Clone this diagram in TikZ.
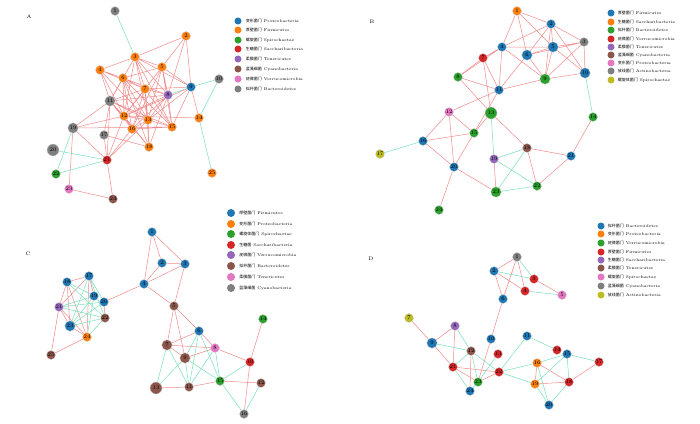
\documentclass[tikz,border=0pt]{standalone}
\usepackage{fontspec}
\newfontfamily\cjk{Noto Sans CJK SC}
\usetikzlibrary{positioning,backgrounds}
\definecolor{tblue}{HTML}{1F77B4}
\definecolor{torange}{HTML}{FF7F0E}
\definecolor{tgreen}{HTML}{2CA02C}
\definecolor{tred}{HTML}{D62728}
\definecolor{tpurple}{HTML}{9467BD}
\definecolor{tbrown}{HTML}{8C564B}
\definecolor{tpink}{HTML}{E377C2}
\definecolor{tgray}{HTML}{7F7F7F}
\definecolor{tolive}{HTML}{BCBD22}
\definecolor{redge}{HTML}{F08A8A}
\definecolor{gedge}{HTML}{7ADFB8}
\tikzset{
  otu/.style={circle, draw=gray!35, line width=0.3pt, inner sep=0pt, minimum size=9pt, font=\fontsize{5.5}{5.5}\selectfont},
  bigotu/.style={minimum size=12pt},
  midotu/.style={minimum size=10.5pt},
  posedge/.style={draw=redge, line width=0.5pt},
  negedge/.style={draw=gedge, line width=0.5pt},
  legdot/.style={circle, inner sep=0pt, minimum size=7pt},
  legtxt/.style={inner sep=0pt, font=\fontsize{4}{4}\selectfont},
  panel/.style={font=\fontsize{5}{5}\selectfont}
}
\begin{document}
\begin{tikzpicture}[x=1pt, y=-1pt]
\useasboundingbox (0,0) rectangle (700,423);

% panel A
\path (29,17) node[panel] {A};
\node[otu, fill=tgray] (a1) at (115,11) {1};
\node[otu, fill=torange] (a2) at (186,36) {2};
\node[otu, fill=torange] (a3) at (135,57) {3};
\node[otu, fill=torange] (a4) at (100,70) {4};
\node[otu, fill=torange] (a5) at (162,67) {5};
\node[otu, fill=torange] (a6) at (123,78) {6};
\node[otu, fill=torange] (a7) at (145,89) {7};
\node[otu, fill=tpurple] (a8) at (168,95) {8};
\node[otu, fill=tblue] (a9) at (191,87) {9};
\node[otu, fill=tgray] (a10) at (219,79) {10};
\node[otu, midotu, fill=tgray] (a11) at (110,101) {11};
\node[otu, fill=torange] (a12) at (124,116) {12};
\node[otu, fill=torange] (a13) at (148,120) {13};
\node[otu, fill=torange] (a14) at (199,118) {14};
\node[otu, fill=torange] (a15) at (172,127) {15};
\node[otu, fill=torange] (a16) at (132,129) {16};
\node[otu, fill=tgray] (a17) at (104,135) {17};
\node[otu, fill=torange] (a18) at (149,147) {18};
\node[otu, midotu, fill=tgray] (a19) at (73,128) {19};
\node[otu, bigotu, fill=tgray] (a20) at (53,150) {20};
\node[otu, fill=tred] (a21) at (107,160) {21};
\node[otu, fill=tgreen] (a22) at (56,174) {22};
\node[otu, fill=tpink] (a23) at (69,189) {23};
\node[otu, fill=tbrown] (a24) at (113,199) {24};
\node[otu, fill=torange] (a25) at (212,173) {25};
\begin{scope}[on background layer]
  \draw[posedge] (a2) -- (a3) (a2) -- (a5) (a2) -- (a8) (a2) -- (a9);
  \draw[posedge] (a3) -- (a4) (a3) -- (a5) (a3) -- (a6) (a3) -- (a7) (a3) -- (a8) (a3) -- (a9) (a3) -- (a11) (a3) -- (a12) (a3) -- (a13) (a3) -- (a15);
  \draw[posedge] (a4) -- (a6) (a4) -- (a7) (a4) -- (a11) (a4) -- (a12) (a4) -- (a13);
  \draw[posedge] (a5) -- (a6) (a5) -- (a7) (a5) -- (a8) (a5) -- (a9) (a5) -- (a12) (a5) -- (a13) (a5) -- (a15) (a5) -- (a16);
  \draw[posedge] (a6) -- (a7) (a6) -- (a8) (a6) -- (a11) (a6) -- (a12) (a6) -- (a13) (a6) -- (a15) (a6) -- (a16) (a6) -- (a18);
  \draw[posedge] (a7) -- (a8) (a7) -- (a9) (a7) -- (a11) (a7) -- (a12) (a7) -- (a13) (a7) -- (a15) (a7) -- (a16) (a7) -- (a18);
  \draw[posedge] (a8) -- (a11) (a8) -- (a12) (a8) -- (a13) (a8) -- (a15) (a8) -- (a16) (a8) -- (a18);
  \draw[posedge] (a9) -- (a12) (a9) -- (a13) (a9) -- (a14) (a9) -- (a15);
  \draw[posedge] (a11) -- (a12) (a11) -- (a13) (a11) -- (a15) (a11) -- (a16) (a11) -- (a17) (a11) -- (a18) (a11) -- (a19) (a11) -- (a21);
  \draw[posedge] (a12) -- (a13) (a12) -- (a14) (a12) -- (a16) (a12) -- (a18) (a12) -- (a21) (a12) -- (a19);
  \draw[posedge] (a13) -- (a15) (a13) -- (a16) (a13) -- (a18) (a13) -- (a21);
  \draw[posedge] (a15) -- (a16) (a15) -- (a19) (a16) -- (a21) (a17) -- (a18) (a17) -- (a21);
  \draw[posedge] (a19) -- (a21) (a19) -- (a23) (a21) -- (a24) (a23) -- (a24);
  \draw[negedge] (a1) -- (a3) (a8) -- (a9) (a9) -- (a10) (a10) -- (a14) (a14) -- (a25);
  \draw[negedge] (a19) -- (a22) (a20) -- (a21) (a21) -- (a22);
\end{scope}
% legend A
\node[legdot, fill=tblue] (la1) at (238,21) {};
\node[legdot, fill=torange] (la2) at (238,30) {};
\node[legdot, fill=tgreen] (la3) at (238,40) {};
\node[legdot, fill=tred] (la4) at (238,49) {};
\node[legdot, fill=tpurple] (la5) at (238,59) {};
\node[legdot, fill=tbrown] (la6) at (238,69) {};
\node[legdot, fill=tpink] (la7) at (238,79) {};
\node[legdot, fill=tgray] (la8) at (238,89) {};
\node[legtxt, right=4pt of la1] {{\cjk 变形菌门} Proteobacteria};
\node[legtxt, right=4pt of la2] {{\cjk 厚壁菌门} Firmicutes};
\node[legtxt, right=4pt of la3] {{\cjk 螺旋菌门} Spirochaetae};
\node[legtxt, right=4pt of la4] {{\cjk 生糖菌门} Saccharibacteria};
\node[legtxt, right=4pt of la5] {{\cjk 柔膜菌门} Tenericutes};
\node[legtxt, right=4pt of la6] {{\cjk 蓝藻细菌} Cyanobacteria};
\node[legtxt, right=4pt of la7] {{\cjk 疣微菌门} Verrucomicrobia};
\node[legtxt, right=4pt of la8] {{\cjk 拟杆菌门} Bacteroidetes};

% panel B
\path (372,22) node[panel] {B};
\node[otu, fill=torange] (b1) at (517,11) {1};
\node[otu, fill=tblue] (b2) at (551,24) {2};
\node[otu, fill=tgray] (b3) at (584,42) {3};
\node[otu, fill=tblue] (b4) at (502,47) {4};
\node[otu, midotu, fill=tblue] (b5) at (553,47) {5};
\node[otu, midotu, fill=tblue] (b6) at (527,55) {6};
\node[otu, fill=tred] (b7) at (483,58) {7};
\node[otu, fill=tgreen] (b8) at (458,77) {8};
\node[otu, midotu, fill=tgreen] (b9) at (545,79) {9};
\node[otu, midotu, fill=tblue] (b10) at (585,73) {10};
\node[otu, fill=tblue] (b11) at (499,90) {11};
\node[otu, fill=tpink] (b12) at (449,112) {12};
\node[otu, bigotu, fill=tgreen] (b13) at (491,113) {13};
\node[otu, fill=tgreen] (b14) at (593,117) {14};
\node[otu, fill=tgreen] (b15) at (474,133) {15};
\node[otu, fill=tblue] (b16) at (423,141) {16};
\node[otu, fill=tolive] (b17) at (380,154) {17};
\node[otu, fill=tbrown] (b18) at (527,148) {18};
\node[otu, fill=tpurple] (b19) at (494,159) {19};
\node[otu, fill=tblue] (b20) at (454,167) {20};
\node[otu, fill=tblue] (b21) at (571,156) {21};
\node[otu, fill=tgreen] (b22) at (537,186) {22};
\node[otu, midotu, fill=tgreen] (b23) at (496,192) {23};
\node[otu, fill=tgreen] (b24) at (439,210) {24};
\begin{scope}[on background layer]
  \draw[posedge] (b1) -- (b2) (b1) -- (b4) (b1) -- (b5) (b1) -- (b6);
  \draw[posedge] (b2) -- (b3) (b2) -- (b4) (b2) -- (b5) (b2) -- (b6) (b2) -- (b9) (b2) -- (b10);
  \draw[posedge] (b3) -- (b5) (b3) -- (b6) (b3) -- (b9) (b3) -- (b10);
  \draw[posedge] (b4) -- (b5) (b4) -- (b7) (b4) -- (b8) (b4) -- (b9) (b4) -- (b11);
  \draw[posedge] (b5) -- (b6) (b5) -- (b9) (b5) -- (b10) (b6) -- (b9) (b6) -- (b11);
  \draw[posedge] (b7) -- (b8) (b7) -- (b11) (b7) -- (b13) (b8) -- (b11) (b8) -- (b13);
  \draw[posedge] (b9) -- (b10) (b9) -- (b11) (b11) -- (b12) (b11) -- (b15);
  \draw[posedge] (b12) -- (b15) (b12) -- (b16) (b12) -- (b20) (b13) -- (b15) (b13) -- (b18);
  \draw[posedge] (b15) -- (b16) (b15) -- (b20) (b16) -- (b20) (b20) -- (b23) (b20) -- (b24);
  \draw[posedge] (b18) -- (b21) (b18) -- (b22) (b19) -- (b23) (b21) -- (b22) (b21) -- (b14);
  \draw[negedge] (b10) -- (b14) (b16) -- (b17) (b13) -- (b19) (b19) -- (b18) (b19) -- (b22) (b18) -- (b23) (b23) -- (b22);
\end{scope}
% legend B
\node[legdot, fill=tblue] (lb1) at (611,13) {};
\node[legdot, fill=torange] (lb2) at (611,22) {};
\node[legdot, fill=tgreen] (lb3) at (611,30) {};
\node[legdot, fill=tred] (lb4) at (611,39) {};
\node[legdot, fill=tpurple] (lb5) at (611,47) {};
\node[legdot, fill=tbrown] (lb6) at (611,55) {};
\node[legdot, fill=tpink] (lb7) at (611,63) {};
\node[legdot, fill=tgray] (lb8) at (611,71) {};
\node[legdot, fill=tolive] (lb9) at (611,80) {};
\node[legtxt, right=3pt of lb1] {{\cjk 厚壁菌门} Firmicutes};
\node[legtxt, right=3pt of lb2] {{\cjk 生糖菌门} Saccharibacteria};
\node[legtxt, right=3pt of lb3] {{\cjk 拟杆菌门} Bacteroidetes};
\node[legtxt, right=3pt of lb4] {{\cjk 疣微菌门} Verrucomicrobia};
\node[legtxt, right=3pt of lb5] {{\cjk 柔膜菌门} Tenericutes};
\node[legtxt, right=3pt of lb6] {{\cjk 蓝藻细菌} Cyanobacteria};
\node[legtxt, right=3pt of lb7] {{\cjk 变形菌门} Proteobacteria};
\node[legtxt, right=3pt of lb8] {{\cjk 放线菌门} Actinobacteria};
\node[legtxt, right=3pt of lb9] {{\cjk 螺旋体菌门} Spirochaetae};

% panel C
\path (28,254) node[panel] {C};
\node[otu, fill=tblue] (c1) at (152,232) {1};
\node[otu, fill=tblue] (c2) at (162,263) {2};
\node[otu, fill=tblue] (c3) at (185,264) {3};
\node[otu, fill=tblue] (c4) at (144,284) {4};
\node[otu, fill=tbrown] (c5) at (174,306) {5};
\node[otu, fill=tblue] (c6) at (199,331) {6};
\node[otu, midotu, fill=tbrown] (c7) at (167,345) {7};
\node[otu, fill=tpink] (c8) at (215,348) {8};
\node[otu, midotu, fill=tbrown] (c9) at (185,358) {9};
\node[otu, fill=tred] (c10) at (250,362) {10};
\node[otu, fill=tbrown] (c11) at (189,387) {11};
\node[otu, fill=tbrown] (c12) at (261,383) {12};
\node[otu, bigotu, fill=tbrown] (c13) at (156,388) {13};
\node[otu, fill=tgreen] (c14) at (263,319) {14};
\node[otu, fill=tgreen] (c15) at (220,381) {15};
\node[otu, fill=tgray] (c16) at (244,414) {16};
\node[otu, fill=tblue] (c17) at (89,276) {17};
\node[otu, fill=tblue] (c18) at (67,282) {18};
\node[otu, fill=tblue] (c19) at (94,296) {19};
\node[otu, fill=tblue] (c20) at (104,302) {20};
\node[otu, fill=tpurple] (c21) at (59,307) {21};
\node[otu, fill=tbrown] (c22) at (105,318) {22};
\node[otu, midotu, fill=tblue] (c23) at (70,326) {23};
\node[otu, fill=torange] (c24) at (87,337) {24};
\node[otu, fill=tbrown] (c25) at (51,355) {25};
\begin{scope}[on background layer]
  \draw[posedge] (c1) -- (c2) (c1) -- (c3) (c1) -- (c4) (c2) -- (c3) (c2) -- (c4) (c3) -- (c4) (c3) -- (c5) (c4) -- (c5) (c4) -- (c20);
  \draw[posedge] (c5) -- (c6) (c5) -- (c7) (c5) -- (c9) (c6) -- (c7) (c6) -- (c8) (c7) -- (c8) (c7) -- (c9) (c8) -- (c9) (c8) -- (c10);
  \draw[posedge] (c10) -- (c14) (c10) -- (c16) (c13) -- (c11) (c11) -- (c15) (c15) -- (c12);
  \draw[negedge] (c6) -- (c9) (c6) -- (c11) (c6) -- (c15) (c7) -- (c13) (c7) -- (c11) (c9) -- (c11) (c9) -- (c15) (c9) -- (c13);
  \draw[negedge] (c8) -- (c11) (c8) -- (c15) (c15) -- (c10) (c15) -- (c16) (c12) -- (c16);
  \draw[posedge] (c18) -- (c17) (c18) -- (c21) (c18) -- (c23) (c18) -- (c24) (c17) -- (c21) (c17) -- (c24) (c17) -- (c19);
  \draw[posedge] (c21) -- (c25) (c25) -- (c24) (c23) -- (c24) (c21) -- (c24) (c20) -- (c22) (c21) -- (c23);
  \draw[negedge] (c17) -- (c22) (c17) -- (c20) (c18) -- (c19) (c18) -- (c22) (c21) -- (c19) (c21) -- (c20) (c21) -- (c22);
  \draw[negedge] (c23) -- (c19) (c23) -- (c17) (c23) -- (c20) (c24) -- (c19) (c24) -- (c22) (c23) -- (c22);
\end{scope}
% legend C
\node[legdot, minimum size=8pt, fill=tblue] (lc1) at (231,213) {};
\node[legdot, minimum size=8pt, fill=torange] (lc2) at (231,224) {};
\node[legdot, minimum size=8pt, fill=tgreen] (lc3) at (231,234) {};
\node[legdot, minimum size=8pt, fill=tred] (lc4) at (231,245) {};
\node[legdot, minimum size=8pt, fill=tpurple] (lc5) at (231,255) {};
\node[legdot, minimum size=8pt, fill=tbrown] (lc6) at (231,266) {};
\node[legdot, minimum size=8pt, fill=tpink] (lc7) at (231,277) {};
\node[legdot, minimum size=8pt, fill=tgray] (lc8) at (231,288) {};
\node[legtxt, right=4pt of lc1] {{\cjk 厚壁菌门} Firmicutes};
\node[legtxt, right=4pt of lc2] {{\cjk 变形菌门} Proteobacteria};
\node[legtxt, right=4pt of lc3] {{\cjk 螺旋体菌门} Spirochaetae};
\node[legtxt, right=4pt of lc4] {{\cjk 生糖菌} Saccharibacteria};
\node[legtxt, right=4pt of lc5] {{\cjk 疣微菌门} Verrucomicrobia};
\node[legtxt, right=4pt of lc6] {{\cjk 拟杆菌门} Bacteroidetes};
\node[legtxt, right=4pt of lc7] {{\cjk 柔膜菌门} Tenericutes};
\node[legtxt, right=4pt of lc8] {{\cjk 蓝藻细菌} Cyanobacteria};

% panel D
\path (371,259) node[panel] {D};
\node[otu, fill=tgray] (d1) at (517,257) {1};
\node[otu, fill=tblue] (d2) at (494,271) {2};
\node[otu, fill=tred] (d3) at (534,279) {3};
\node[otu, fill=tred] (d4) at (525,291) {4};
\node[otu, fill=tpink] (d5) at (562,295) {5};
\node[otu, fill=tblue] (d6) at (503,299) {6};
\node[otu, fill=tolive] (d7) at (409,318) {7};
\node[otu, fill=tpurple] (d8) at (455,326) {8};
\node[otu, midotu, fill=tblue] (d9) at (432,343) {9};
\node[otu, fill=tblue] (d10) at (491,339) {10};
\node[otu, fill=tblue] (d11) at (527,336) {11};
\node[otu, fill=tbrown] (d12) at (471,351) {12};
\node[otu, fill=tred] (d13) at (498,354) {13};
\node[otu, fill=tred] (d14) at (557,350) {14};
\node[otu, fill=tblue] (d15) at (567,354) {15};
\node[otu, fill=torange] (d16) at (537,363) {16};
\node[otu, fill=tred] (d17) at (599,362) {17};
\node[otu, fill=tred] (d18) at (569,382) {18};
\node[otu, fill=torange] (d19) at (535,384) {19};
\node[otu, fill=tblue] (d20) at (549,405) {20};
\node[otu, fill=tred] (d21) at (453,367) {21};
\node[otu, fill=tred] (d22) at (499,372) {22};
\node[otu, fill=tgreen] (d23) at (478,382) {23};
\node[otu, fill=tblue] (d24) at (470,391) {24};
\begin{scope}[on background layer]
  \draw[posedge] (d1) -- (d2) (d1) -- (d4) (d1) -- (d6) (d2) -- (d4) (d2) -- (d6) (d3) -- (d5);
  \draw[posedge] (d7) -- (d9) (d8) -- (d9) (d8) -- (d21) (d9) -- (d21) (d6) -- (d10) (d10) -- (d23) (d12) -- (d24);
  \draw[posedge] (d21) -- (d22) (d21) -- (d23) (d22) -- (d23) (d16) -- (d18) (d16) -- (d19) (d19) -- (d18) (d18) -- (d17);
  \draw[negedge] (d1) -- (d3) (d2) -- (d3) (d4) -- (d5) (d8) -- (d12) (d9) -- (d12) (d12) -- (d21) (d12) -- (d23) (d12) -- (d22);
  \draw[negedge] (d21) -- (d24) (d23) -- (d24) (d13) -- (d23) (d11) -- (d22) (d11) -- (d14);
  \draw[negedge] (d22) -- (d16) (d22) -- (d19) (d16) -- (d15) (d15) -- (d17) (d15) -- (d18) (d15) -- (d19);
  \draw[negedge] (d16) -- (d20) (d19) -- (d20) (d18) -- (d20);
\end{scope}
% legend D
\node[legdot, fill=tblue] (ld1) at (601,226) {};
\node[legdot, fill=torange] (ld2) at (601,234) {};
\node[legdot, fill=tgreen] (ld3) at (601,243) {};
\node[legdot, fill=tred] (ld4) at (601,252) {};
\node[legdot, fill=tpurple] (ld5) at (601,260) {};
\node[legdot, fill=tbrown] (ld6) at (601,268) {};
\node[legdot, fill=tpink] (ld7) at (601,277) {};
\node[legdot, fill=tgray] (ld8) at (601,286) {};
\node[legdot, fill=tolive] (ld9) at (601,295) {};
\node[legtxt, right=3pt of ld1] {{\cjk 拟杆菌门} Bacteroidetes};
\node[legtxt, right=3pt of ld2] {{\cjk 变形菌门} Proteobacteria};
\node[legtxt, right=3pt of ld3] {{\cjk 疣微菌门} Verrucomicrobia};
\node[legtxt, right=3pt of ld4] {{\cjk 厚壁菌门} Firmicutes};
\node[legtxt, right=3pt of ld5] {{\cjk 生糖菌门} Saccharibacteria};
\node[legtxt, right=3pt of ld6] {{\cjk 柔膜菌门} Tenericutes};
\node[legtxt, right=3pt of ld7] {{\cjk 螺旋菌门} Spirochaetae};
\node[legtxt, right=3pt of ld8] {{\cjk 蓝藻细菌} Cyanobacteria};
\node[legtxt, right=3pt of ld9] {{\cjk 放线菌门} Actinobacteria};
\end{tikzpicture}
\end{document}
